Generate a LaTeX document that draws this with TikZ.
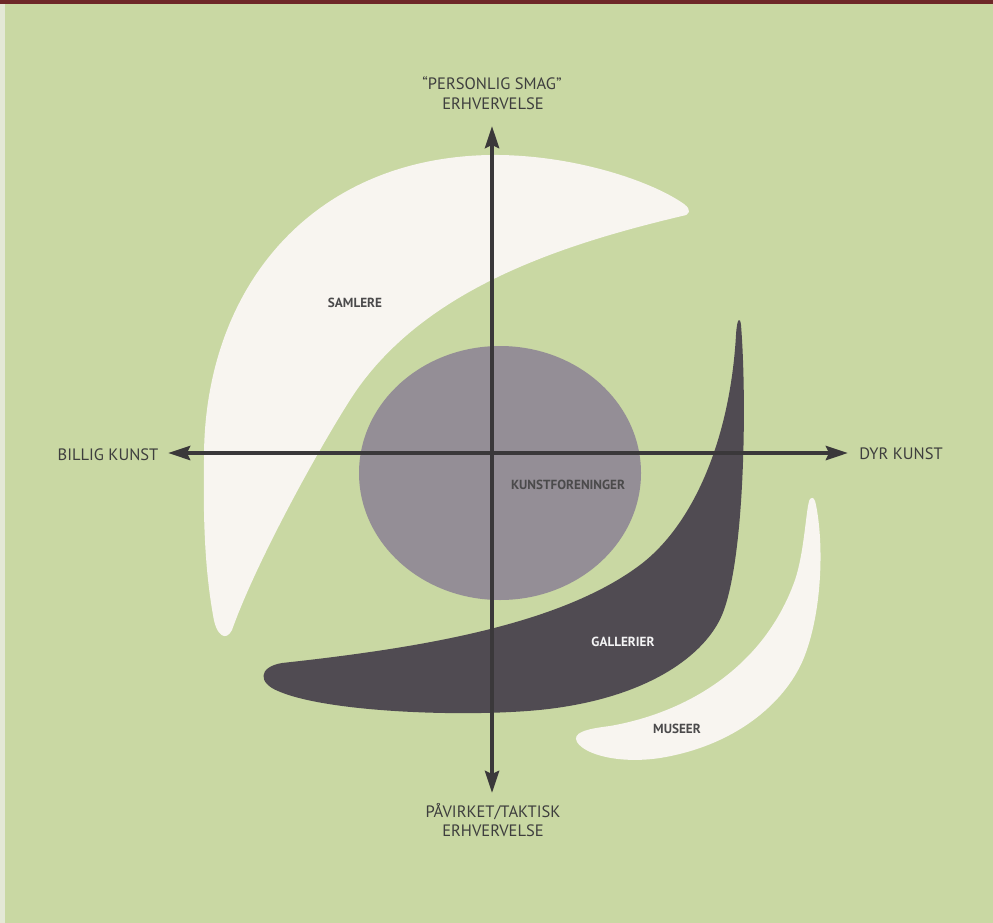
\documentclass[tikz,border=0pt]{standalone}
\usepackage{fontspec}
\setmainfont{PT Sans}
\usetikzlibrary{arrows.meta}
\definecolor{bggreen}{RGB}{201,216,163}
\definecolor{topred}{RGB}{110,40,40}
\definecolor{edgelight}{RGB}{228,232,214}
\definecolor{shapewhite}{RGB}{248,245,240}
\definecolor{circgrey}{RGB}{148,142,150}
\definecolor{darkshape}{RGB}{80,75,82}
\definecolor{axisgrey}{RGB}{58,56,58}
\definecolor{txtgrey}{RGB}{62,62,62}
\tikzset{
  axisline/.style={line width=4pt, draw=axisgrey, {Stealth[length=22pt,width=14pt,inset=3pt]}-{Stealth[length=22pt,width=14pt,inset=3pt]}},
  biglbl/.style={font=\fontsize{16.5}{20}\selectfont, text=txtgrey, inner sep=0pt, anchor=base},
  smalllbl/.style={font=\bfseries\fontsize{13.2}{15}\selectfont, text=txtgrey!85!circgrey, inner sep=0pt, anchor=base},
}
\begin{document}
\begin{tikzpicture}[x=1pt,y=-1pt]
\useasboundingbox (0,0) rectangle (993,923);
\fill[bggreen] (0,0) rectangle (993,923);
\fill[topred] (0,0) rectangle (993,4);
\fill[edgelight] (0,4) rectangle (5,923);
% SAMLERE
\fill[shapewhite]
  (213,615) .. controls (205,570) and (203,520) .. (204,460)
  .. controls (203,290) and (310,158) .. (490,155)
  .. controls (570,154) and (650,180) .. (684,204)
  .. controls (692,210) and (690,215) .. (682,216)
  .. controls (560,245) and (420,290) .. (350,400)
  .. controls (315,455) and (255,565) .. (232,630)
  .. controls (226,642) and (216,636) .. (213,615) -- cycle;
% central circle
\fill[circgrey] (500,473) ellipse [x radius=141, y radius=127];
% GALLERIER
\fill[darkshape]
  (741,325) .. controls (747,400) and (745,560) .. (722,615)
  .. controls (705,655) and (650,695) .. (556,708)
  .. controls (486,718) and (330,714) .. (278,691)
  .. controls (258,683) and (258,667) .. (282,663)
  .. controls (420,648) and (560,625) .. (640,565)
  .. controls (693,525) and (730,440) .. (736,335)
  .. controls (737,318) and (740,316) .. (741,325) -- cycle;
% MUSEER
\fill[shapewhite]
  (816,505) .. controls (824,545) and (822,610) .. (805,655)
  .. controls (789,698) and (740,745) .. (660,758)
  .. controls (620,764) and (585,755) .. (577,742)
  .. controls (572,733) and (585,729) .. (610,726)
  .. controls (690,712) and (765,665) .. (795,580)
  .. controls (805,550) and (806,505) .. (810,499)
  .. controls (813,496) and (815,499) .. (816,505) -- cycle;
% axes
\coordinate (N) at (492,126);
\coordinate (S) at (492,793);
\coordinate (W) at (168,453);
\coordinate (E) at (848,453);
\draw[axisline] (W) -- (E);
\draw[axisline] (S) -- (N);
% labels
\node[biglbl] (n1) at (492,90) {“PERSONLIG SMAG”};
\node[biglbl] (n2) at (493,110) {ERHVERVELSE};
\node[biglbl] (s1) at (493,817) {PÅVIRKET/TAKTISK};
\node[biglbl] (s2) at (493,836) {ERHVERVELSE};
\node[biglbl] (w1) at (108,460) {BILLIG KUNST};
\node[biglbl] (e1) at (901,459) {DYR KUNST};
\node[smalllbl] (samlere) at (355,307) {SAMLERE};
\node[smalllbl] (kunst) at (568,489) {KUNSTFORENINGER};
\node[smalllbl, text=white!90!circgrey] (gall) at (623,646) {GALLERIER};
\node[smalllbl] (museer) at (677,733) {MUSEER};
\end{tikzpicture}
\end{document}
